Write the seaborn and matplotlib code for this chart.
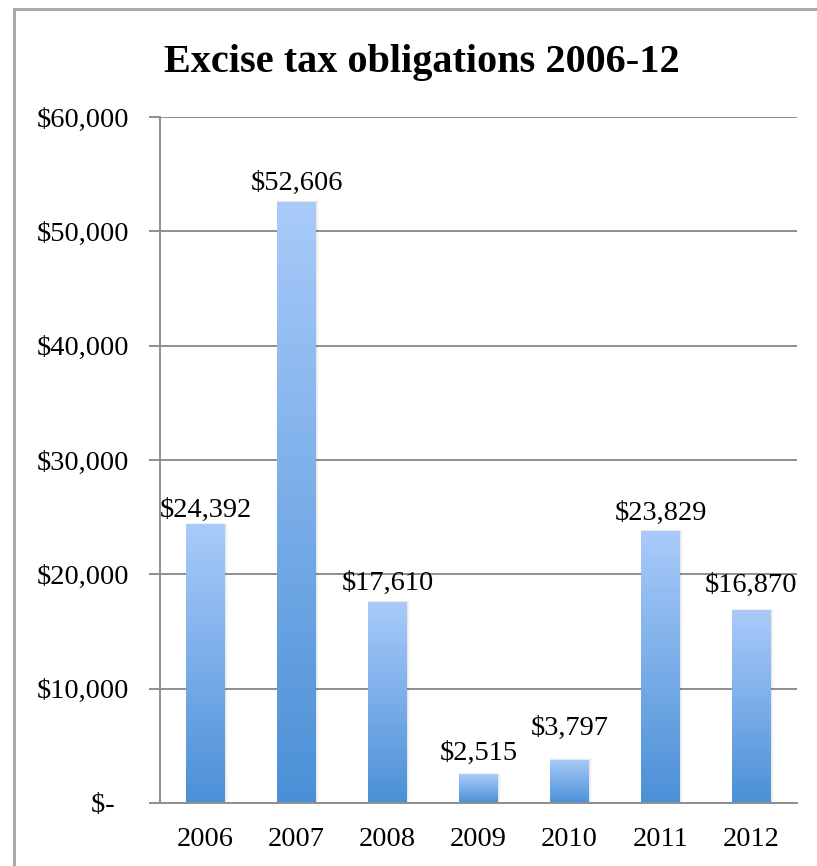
import numpy as np
import pandas as pd
import matplotlib
matplotlib.use("Agg")
import matplotlib.pyplot as plt
from matplotlib.colors import LinearSegmentedColormap
from matplotlib.lines import Line2D
import seaborn as sns

# Excise tax obligations by year (USD)
years = ["2006", "2007", "2008", "2009", "2010", "2011", "2012"]
obligations = [24392, 52606, 17610, 2515, 3797, 23829, 16870]
y_ticks = [0, 10000, 20000, 30000, 40000, 50000, 60000]
y_tick_labels = ["$-  ", "$10,000", "$20,000", "$30,000", "$40,000", "$50,000", "$60,000"]
title = "Excise tax obligations 2006-12"

# gap between each value label's baseline and its bar top, in pixels
label_gaps_px = [7, 12, 12, 14, 25, 11, 18]

df = pd.DataFrame({"year": years, "obligation": obligations})

sns.set_theme(style="white")
plt.rcParams["font.family"] = ["Liberation Serif", "DejaVu Serif"]

FS = 20.5
fig = plt.figure(figsize=(8.17, 8.66), dpi=100)
ax = fig.add_axes([160 / 817, 63 / 866, 637 / 817, 686 / 866])

sns.barplot(data=df, x="year", y="obligation", width=0.42, ax=ax,
            color="#6fa5e4", saturation=1, errorbar=None)

# vertical blue gradient inside each bar
grad_cmap = LinearSegmentedColormap.from_list("bar_grad", ["#4b90d7", "#a9cbfa"])
grad = np.linspace(0, 1, 256).reshape(-1, 1)
for patch in ax.patches:
    x0, y0 = patch.get_x(), patch.get_y()
    w, h = patch.get_width(), patch.get_height()
    # soft drop shadow
    for k, a in enumerate([0.045, 0.03, 0.015]):
        off = 0.01 * (k + 1)
        ax.add_patch(plt.Rectangle((x0 - off * 0.3, y0), w + off * 1.5, h + 40 * (k + 1),
                                   facecolor="black", alpha=a, edgecolor="none", zorder=1.5))
    im = ax.imshow(grad, cmap=grad_cmap, origin="lower", aspect="auto",
                   extent=[x0, x0 + w, y0, y0 + h], zorder=2, interpolation="bilinear")
    im.set_clip_path(patch)
    patch.set_facecolor("none")
    patch.set_edgecolor("none")
    patch.set_zorder(2)

# value labels above bars
for i, (v, gap) in enumerate(zip(obligations, label_gaps_px)):
    ax.annotate(f"${v:,}", xy=(i, v), xytext=(0, gap * 0.72), textcoords="offset points",
                ha="center", va="baseline", fontsize=FS, color="black")

ax.set_xlim(-0.5, len(years) - 0.5)
ax.set_ylim(0, 60000)
ax.set_yticks(y_ticks)
ax.set_yticklabels(y_tick_labels)
ax.yaxis.grid(True, color="#8e8e8e", linewidth=1.4)
ax.set_axisbelow(True)

ax.set_xticks(range(len(years)))
ax.set_xticklabels(years)
ax.set_xticks(np.arange(-0.5, len(years), 1.0), minor=True)
ax.tick_params(axis="x", which="major", length=0, pad=17, labelsize=FS, colors="black")
ax.tick_params(axis="x", which="minor", length=8, width=1.4, color="#8e8e8e", direction="out")
ax.tick_params(axis="y", which="major", length=8, width=1.4, color="#8e8e8e", pad=14.5,
               labelsize=FS, colors="black", direction="out", left=True)
ax.set_xlabel("")
ax.set_ylabel("")

for side in ["top", "right"]:
    ax.spines[side].set_visible(False)
for side in ["left", "bottom"]:
    ax.spines[side].set_color("#8e8e8e")
    ax.spines[side].set_linewidth(1.4)

fig.text(422 / 817, 1 - 72 / 866, title, ha="center", va="baseline",
         fontsize=29, fontweight="bold", color="black")

# chart frame
fig.add_artist(Line2D([13.5 / 817, 13.5 / 817], [0, 1 - 9 / 866], transform=fig.transFigure,
                      color="#a3a3a3", linewidth=2))
fig.add_artist(Line2D([13.5 / 817, 1], [1 - 9 / 866, 1 - 9 / 866], transform=fig.transFigure,
                      color="#a3a3a3", linewidth=2))

fig.savefig("out.png", dpi=100)
